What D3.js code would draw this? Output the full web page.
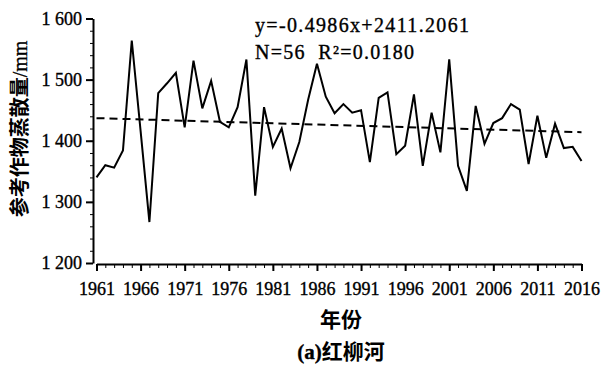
<!DOCTYPE html>
<html lang="zh">
<head>
    <meta charset="UTF-8">
    <title>参考作物蒸散量 - 红柳河</title>
    <script src="https://d3js.org/d3.v7.min.js"></script>
    <style>
        body {
            margin: 0;
            padding: 0;
            background-color: #fff;
        }
        svg {
            display: block;
        }
        .serif {
            font-family: "Liberation Serif", "Times New Roman", serif;
            stroke: #000;
            stroke-width: 0.35px;
        }
        .cjk {
            font-family: "Noto Sans CJK SC", sans-serif;
            font-weight: bold;
        }
    </style>
</head>
<body>
    <div id="chart"></div>

    <script>
        const years = d3.range(1961, 2017);
        const et0 = [
            1340, 1360, 1356, 1384, 1564, 1416, 1267, 1478, 1494, 1511,
            1422, 1531, 1453, 1498, 1431, 1422, 1455, 1533, 1310, 1455,
            1390, 1420, 1355, 1398, 1467, 1526, 1472, 1445, 1460, 1446,
            1450, 1365, 1470, 1479, 1378, 1392, 1476, 1359, 1446, 1381,
            1533, 1359, 1318, 1457, 1395, 1429, 1437, 1460, 1451, 1362,
            1441, 1372, 1428, 1388, 1390, 1367
        ];
        const trendYears = [1961, 2016];
        const trendValues = [1437, 1414];
        const yTicks = [1200, 1300, 1400, 1500, 1600];
        const xTicks = [1961, 1966, 1971, 1976, 1981, 1986, 1991, 1996, 2001, 2006, 2011, 2016];
        const equationText = "y=-0.4986x+2411.2061";
        const statsText = "N=56  R²=0.0180";

        const data = years.map((yr, i) => ({ year: yr, value: et0[i] }));

        const width = 604, height = 366;
        const axisX = 93, axisY = 264;

        const x = d3.scaleLinear()
            .domain([1961, 2016])
            .range([96.5, 581.5]);

        const y = d3.scaleLinear()
            .domain([1200, 1600])
            .range([263, 18.5]);

        const fmt = d3.formatLocale({ decimal: ".", thousands: " ", grouping: [3], currency: ["", ""] }).format(",");

        const svg = d3.select("#chart")
            .append("svg")
            .attr("width", width)
            .attr("height", height);

        // y axis: minor ticks every 20, major every 100
        svg.append("g")
            .attr("transform", `translate(${axisX},0)`)
            .call(d3.axisLeft(y).tickValues(d3.range(1200, 1601, 20)).tickSize(3).tickSizeOuter(0).tickFormat(""))
            .call(g => g.select(".domain").attr("stroke-width", 2));

        const yAxis = svg.append("g")
            .attr("transform", `translate(${axisX},0)`)
            .call(d3.axisLeft(y).tickValues(yTicks).tickSize(7).tickPadding(4).tickFormat(fmt));
        yAxis.select(".domain").remove();
        yAxis.selectAll("line").attr("stroke-width", 2);
        yAxis.selectAll("text")
            .attr("class", "serif")
            .style("font-size", "18px")
            .attr("fill", "#000");

        // x axis: minor ticks every year, major every 5 years
        svg.append("g")
            .attr("transform", `translate(0,${axisY})`)
            .call(d3.axisBottom(x).tickValues(years).tickSize(4).tickSizeOuter(0).tickFormat(""))
            .call(g => g.select(".domain").attr("stroke-width", 2));

        const xAxis = svg.append("g")
            .attr("transform", `translate(0,${axisY})`)
            .call(d3.axisBottom(x).tickValues(xTicks).tickSize(7).tickFormat(d3.format("d")));
        xAxis.select(".domain").remove();
        xAxis.selectAll("line").attr("stroke-width", 2);
        xAxis.selectAll("text")
            .attr("class", "serif")
            .attr("y", 18)
            .attr("dy", "0.71em")
            .style("font-size", "18px")
            .attr("fill", "#000");

        // trend line
        svg.append("line")
            .attr("x1", x(trendYears[0]))
            .attr("y1", y(trendValues[0]))
            .attr("x2", x(trendYears[1]))
            .attr("y2", y(trendValues[1]))
            .attr("stroke", "#000")
            .attr("stroke-width", 2)
            .attr("stroke-dasharray", "8,5");

        // data line
        const line = d3.line()
            .x(d => x(d.year))
            .y(d => y(d.value));

        svg.append("path")
            .datum(data)
            .attr("fill", "none")
            .attr("stroke", "#000")
            .attr("stroke-width", 2)
            .attr("stroke-linejoin", "miter")
            .attr("d", line);

        // equation
        svg.append("text")
            .attr("class", "serif")
            .attr("x", 255)
            .attr("y", 32)
            .attr("textLength", 214)
            .attr("lengthAdjust", "spacing")
            .style("font-size", "20px")
            .text(equationText);

        svg.append("text")
            .attr("class", "serif")
            .attr("x", 255)
            .attr("y", 58.5)
            .attr("textLength", 159)
            .attr("lengthAdjust", "spacing")
            .style("font-size", "20px")
            .style("white-space", "pre")
            .text(statsText);

        // y axis title
        const yTitle = svg.append("text")
            .attr("transform", "translate(27,129) rotate(-90)")
            .attr("text-anchor", "middle")
            .attr("class", "cjk")
            .style("font-size", "20px");
        yTitle.append("tspan").text("参考作物蒸散量");
        yTitle.append("tspan").attr("class", "serif").style("font-weight", "normal").text("/mm");

        // x axis title
        svg.append("text")
            .attr("x", 341)
            .attr("y", 327)
            .attr("text-anchor", "middle")
            .attr("class", "cjk")
            .style("font-size", "21px")
            .text("年份");

        // caption
        const caption = svg.append("text")
            .attr("x", 341)
            .attr("y", 359)
            .attr("text-anchor", "middle")
            .attr("class", "cjk")
            .style("font-size", "21px");
        caption.append("tspan").attr("class", "serif").style("font-weight", "bold").text("(a)");
        caption.append("tspan").text("红柳河");
    </script>
</body>
</html>
